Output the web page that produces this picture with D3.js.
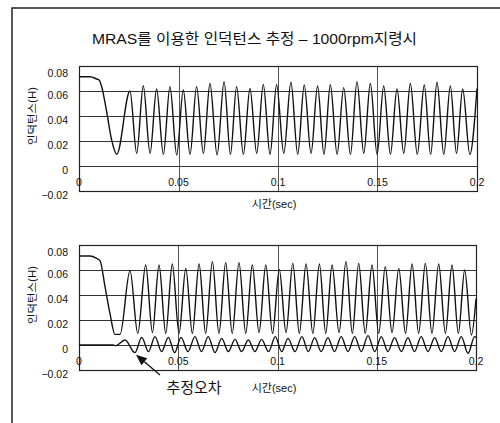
<!DOCTYPE html>
<html lang="ko">
<head>
    <meta charset="UTF-8">
    <title>MRAS 인덕턴스 추정</title>
    <style>
        html, body {
            margin: 0;
            padding: 0;
            background: #fff;
        }

        svg {
            display: block;
        }

        text {
            font-family: "Liberation Sans", Arial, "Noto Sans CJK KR", sans-serif;
            fill: #111;
        }
    </style>
</head>
<body>
<svg id="chart" width="500" height="423"></svg>
<script src="https://cdn.jsdelivr.net/npm/d3@7"></script>
<script>
    "use strict"

    /* axis ticks */
    const xTicks = [0, 0.05, 0.1, 0.15, 0.2];
    const xTickLabels = ["0", "0.05", "0.1", "0.15", "0.2"];
    const yTicks = [-0.02, 0, 0.02, 0.04, 0.06, 0.08];
    const yTickLabels = ["\u22120.02", "0", "0.02", "0.04", "0.06", "0.08"];
    const yGrid = [0, 0.02, 0.04, 0.06];
    const xGrid = [0.05, 0.1, 0.15];

    /* upper plot : estimated inductance [time(s), L(H)] */
    const topEstimate = [
        [0, 0.0714], [0.0055, 0.0714], [0.0089, 0.0696], [0.0101, 0.0688],
        [0.0114, 0.0634], [0.0139, 0.0434], [0.0164, 0.0208], [0.0190, 0.0094],
        [0.0256, 0.0600], [0.0290, 0.0101], [0.0323, 0.0642], [0.0357, 0.0101],
        [0.0390, 0.0616], [0.0424, 0.0093], [0.0457, 0.0635], [0.0491, 0.0088],
        [0.0524, 0.0608], [0.0558, 0.0093], [0.0591, 0.0635], [0.0625, 0.0101],
        [0.0658, 0.0660], [0.0694, 0.0088], [0.0729, 0.0675], [0.0761, 0.0093],
        [0.0792, 0.0635], [0.0826, 0.0093], [0.0859, 0.0620], [0.0893, 0.0101],
        [0.0926, 0.0653], [0.0960, 0.0093], [0.0993, 0.0650], [0.1029, 0.0101],
        [0.1065, 0.0670], [0.1099, 0.0093], [0.1132, 0.0648], [0.1166, 0.0101],
        [0.1199, 0.0640], [0.1231, 0.0093], [0.1263, 0.0650], [0.1297, 0.0093],
        [0.1330, 0.0627], [0.1364, 0.0093], [0.1397, 0.0675], [0.1431, 0.0101],
        [0.1464, 0.0660], [0.1498, 0.0093], [0.1531, 0.0640], [0.1565, 0.0093],
        [0.1598, 0.0616], [0.1632, 0.0101], [0.1665, 0.0660], [0.1700, 0.0093],
        [0.1735, 0.0648], [0.1767, 0.0093], [0.1799, 0.0670], [0.1833, 0.0093],
        [0.1866, 0.0640], [0.1897, 0.0101], [0.1928, 0.0616], [0.1964, 0.0093],
        [0.2000, 0.0620]
    ];

    /* lower plot : estimated inductance */
    const bottomEstimate = [
        [0, 0.0712], [0.0055, 0.0712], [0.0089, 0.0693], [0.0106, 0.0675],
        [0.0131, 0.0467], [0.0156, 0.0253], [0.0181, 0.0085], [0.0207, 0.0085],
        [0.0257, 0.0595], [0.0296, 0.0093], [0.0336, 0.0640], [0.0370, 0.0099],
        [0.0403, 0.0640], [0.0437, 0.0093], [0.0470, 0.0648], [0.0504, 0.0093],
        [0.0538, 0.0613], [0.0571, 0.0093], [0.0605, 0.0648], [0.0638, 0.0093],
        [0.0672, 0.0667], [0.0705, 0.0093], [0.0739, 0.0659], [0.0772, 0.0093],
        [0.0806, 0.0659], [0.0840, 0.0093], [0.0873, 0.0640], [0.0907, 0.0099],
        [0.0941, 0.0640], [0.0975, 0.0093], [0.1009, 0.0605], [0.1043, 0.0099],
        [0.1077, 0.0653], [0.1110, 0.0093], [0.1144, 0.0648], [0.1178, 0.0093],
        [0.1211, 0.0648], [0.1243, 0.0093], [0.1275, 0.0640], [0.1310, 0.0099],
        [0.1345, 0.0667], [0.1377, 0.0093], [0.1409, 0.0653], [0.1442, 0.0093],
        [0.1476, 0.0640], [0.1510, 0.0093], [0.1543, 0.0627], [0.1577, 0.0099],
        [0.1611, 0.0613], [0.1645, 0.0093], [0.1678, 0.0648], [0.1711, 0.0093],
        [0.1745, 0.0653], [0.1778, 0.0093], [0.1812, 0.0648], [0.1846, 0.0093],
        [0.1879, 0.0640], [0.1911, 0.0093], [0.1943, 0.0600], [0.1977, 0.0080],
        [0.2000, 0.0370]
    ];

    /* lower plot : estimation error */
    const estimateError = [
        [0, 0], [0.0171, 0], [0.0186, -0.0005], [0.0232, 0.0040], [0.0282, -0.0061],
        [0.0316, 0.0061], [0.0350, -0.0053], [0.0383, 0.0067], [0.0416, -0.0053],
        [0.0450, 0.0061], [0.0482, -0.0061], [0.0514, 0.0061], [0.0549, -0.0053],
        [0.0584, 0.0067], [0.0617, -0.0053], [0.0651, 0.0067], [0.0685, -0.0061],
        [0.0719, 0.0053], [0.0752, -0.0053], [0.0786, 0.0045], [0.0819, -0.0053],
        [0.0853, 0.0040], [0.0886, -0.0053], [0.0920, 0.0045], [0.0955, -0.0053],
        [0.0989, 0.0067], [0.1021, -0.0053], [0.1053, 0.0053], [0.1088, -0.0053],
        [0.1123, 0.0067], [0.1155, -0.0053], [0.1187, 0.0059], [0.1220, -0.0053],
        [0.1254, 0.0059], [0.1287, -0.0053], [0.1321, 0.0067], [0.1355, -0.0053],
        [0.1389, 0.0067], [0.1422, -0.0053], [0.1456, 0.0075], [0.1490, -0.0053],
        [0.1523, 0.0067], [0.1556, -0.0053], [0.1590, 0.0059], [0.1624, -0.0053],
        [0.1657, 0.0059], [0.1690, -0.0053], [0.1724, 0.0067], [0.1758, -0.0053],
        [0.1792, 0.0059], [0.1825, -0.0053], [0.1859, 0.0067], [0.1892, -0.0053],
        [0.1926, 0.0067], [0.1960, -0.0067], [0.1993, 0.0067], [0.2000, 0.0060]
    ];

    const svg = d3.select("#chart");

    // outer frame (scan is cut on the right and bottom)
    svg.append("rect")
        .attr("x", 12).attr("y", 8)
        .attr("width", 520).attr("height", 440)
        .attr("fill", "none")
        .attr("stroke", "#222")
        .attr("stroke-width", 1.5);

    svg.append("text")
        .attr("x", 254.5)
        .attr("y", 44)
        .attr("text-anchor", "middle")
        .attr("font-size", 15)
        .attr("textLength", 325)
        .attr("lengthAdjust", "spacingAndGlyphs")
        .text("MRAS를 이용한 인덕턴스 추정 \u2013 1000rpm지령시");

    function drawPanel(p) {
        const x = d3.scaleLinear().domain([0, 0.2]).range([p.left, p.right]);
        const y = d3.scaleLinear().domain([-0.02, 0.08]).range([p.bottom, p.top]);
        const g = svg.append("g");

        g.append("g").selectAll("line")
            .data(yGrid).enter().append("line")
            .attr("x1", p.left).attr("x2", p.right)
            .attr("y1", d => Math.round(y(d)) + 0.5)
            .attr("y2", d => Math.round(y(d)) + 0.5)
            .attr("stroke", "#333").attr("stroke-width", 1);

        g.append("g").selectAll("line")
            .data(xGrid).enter().append("line")
            .attr("x1", d => Math.round(x(d)) + 0.5)
            .attr("x2", d => Math.round(x(d)) + 0.5)
            .attr("y1", p.top).attr("y2", p.bottom)
            .attr("stroke", "#555").attr("stroke-width", 1);

        g.append("rect")
            .attr("x", p.left + 0.5).attr("y", p.top + 0.5)
            .attr("width", p.right - p.left).attr("height", p.bottom - p.top)
            .attr("fill", "none")
            .attr("stroke", "#222").attr("stroke-width", 1.2);

        // y tick labels
        g.append("g").selectAll("text")
            .data(yTicks).enter().append("text")
            .attr("x", p.left - 11)
            .attr("y", (d, i) => y(d) + 4 + (d === 0.08 ? 3 : 0))
            .attr("dy", "0.35em")
            .attr("text-anchor", "end")
            .attr("font-size", 10.5)
            .text((d, i) => yTickLabels[i]);

        // x tick labels sit inside the plot, above the bottom edge
        g.append("g").selectAll("text")
            .data(xTicks).enter().append("text")
            .attr("x", d => x(d))
            .attr("y", p.bottom - 5)
            .attr("text-anchor", "middle")
            .attr("font-size", 10.5)
            .text((d, i) => xTickLabels[i]);

        g.append("text")
            .attr("transform", "translate(36," + y(0.04) + ") rotate(-90)")
            .attr("text-anchor", "middle")
            .attr("font-size", 10.5)
            .attr("font-family", "'Noto Sans CJK KR', sans-serif")
            .attr("textLength", 58)
            .attr("lengthAdjust", "spacingAndGlyphs")
            .text("인덕턴스(H)");

        g.append("text")
            .attr("x", 274)
            .attr("y", p.bottom + p.xTitleGap)
            .attr("text-anchor", "middle")
            .attr("font-size", 11)
            .text("시간(sec)");

        const line = d3.line()
            .x(d => x(d[0]))
            .y(d => y(d[1]))
            .curve(d3.curveMonotoneX);

        p.series.forEach(s => {
            g.append("path")
                .datum(s)
                .attr("d", line)
                .attr("fill", "none")
                .attr("stroke", "#111")
                .attr("stroke-width", 1.4)
                .attr("stroke-linejoin", "round");
        });

        return {x: x, y: y};
    }

    drawPanel({left: 79, right: 477, top: 66, bottom: 191, xTitleGap: 17, series: [topEstimate]});
    const low = drawPanel({left: 79, right: 476, top: 245, bottom: 370, xTitleGap: 22,
        series: [bottomEstimate, estimateError]});

    // "추정오차" callout pointing at the error curve
    const tipT = 0.0282, tipV = -0.0061;
    const tipX = low.x(tipT) + 1, tipY = low.y(tipV) + 2;
    const startX = 160, startY = 375;
    const ang = Math.atan2(tipY - startY, tipX - startX);
    const headLen = 11, headW = 4.5;
    const bx = tipX - headLen * Math.cos(ang), by = tipY - headLen * Math.sin(ang);

    svg.append("line")
        .attr("x1", startX).attr("y1", startY)
        .attr("x2", bx).attr("y2", by)
        .attr("stroke", "#111").attr("stroke-width", 1.3);

    svg.append("path")
        .attr("d", "M" + tipX + "," + tipY +
            "L" + (bx + headW * Math.sin(ang)) + "," + (by - headW * Math.cos(ang)) +
            "L" + (bx - headW * Math.sin(ang)) + "," + (by + headW * Math.cos(ang)) + "Z")
        .attr("fill", "#111");

    svg.append("text")
        .attr("x", 194)
        .attr("y", 393)
        .attr("text-anchor", "middle")
        .attr("font-size", 15)
        .attr("font-family", "'Noto Sans CJK KR', sans-serif")
        .text("추정오차");
</script>
</body>
</html>
